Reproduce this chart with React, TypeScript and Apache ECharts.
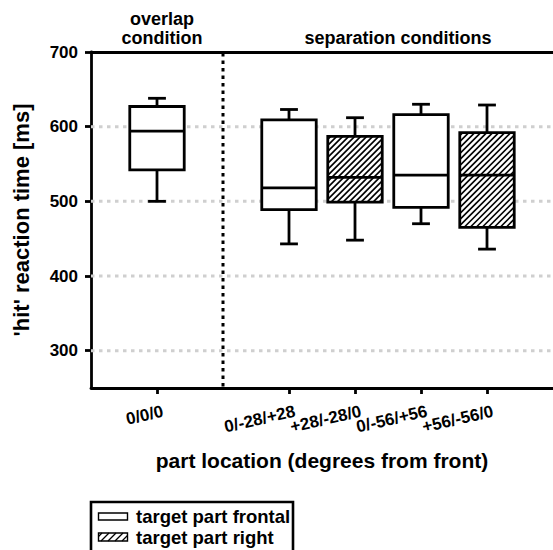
import React, { useEffect, useRef } from "react";
import * as echarts from "echarts";

// ---- data ----
const categories = ["", "0/0/0", "", "0/-28/+28", "+28/-28/0", "0/-56/+56", "+56/-56/0", ""];
const boxLabels = ["0/0/0", "0/-28/+28", "+28/-28/0", "0/-56/+56", "+56/-56/0"];
const whiskerLow = [500, 443, 448, 470, 436];
const quartile1 = [542, 489, 499, 492, 465];
const medians = [594, 518, 532, 535, 535];
const quartile3 = [627, 609, 587, 616, 592];
const whiskerHigh = [638, 623, 612, 630, 629];
const targetPart = ["frontal", "frontal", "right", "frontal", "right"];
const yTicks = [300, 400, 500, 600, 700];
const gridValues = [300, 400, 500, 600];
const yMin = 250;
const yMax = 700;
const separatorIndex = 2;
const legendNames = ["target part frontal", "target part right"];
const groupTitles = ["overlap\ncondition", "separation conditions"];

const FONT = "'Liberation Sans', Arial, Helvetica, sans-serif";

function hatchSegments(x0: number, y0: number, x1: number, y1: number, step: number) {
  const segs: number[][] = [];
  for (let k = x0 + y0 + step / 2; k < x1 + y1; k += step) {
    const xa = Math.max(x0, k - y1);
    const xb = Math.min(x1, k - y0);
    if (xb - xa > 0.5) segs.push([xa, k - xa, xb, k - xb]);
  }
  return segs;
}

function boxData(part: string) {
  const out: number[][] = [];
  boxLabels.forEach((lab, i) => {
    if (targetPart[i] !== part) return;
    out.push([categories.indexOf(lab), whiskerLow[i], quartile1[i], medians[i], quartile3[i], whiskerHigh[i]]);
  });
  return out;
}

function makeBoxRender(hatched: boolean) {
  return (params: any, api: any) => {
    const xi = api.value(0);
    const low = api.coord([xi, api.value(1)]);
    const q1 = api.coord([xi, api.value(2)]);
    const med = api.coord([xi, api.value(3)]);
    const q3 = api.coord([xi, api.value(4)]);
    const high = api.coord([xi, api.value(5)]);
    const band = api.size([1, 0])[0];
    const bw = band * 0.825;
    const cw = band * 0.27;
    const cx = low[0];
    const left = cx - bw / 2;
    const right = cx + bw / 2;
    const lw = 2.8;
    const stroke = { stroke: "#000", lineWidth: lw };
    const children: any[] = [
      { type: "line", shape: { x1: cx, y1: q3[1], x2: cx, y2: high[1] }, style: stroke },
      { type: "line", shape: { x1: cx - cw / 2, y1: high[1], x2: cx + cw / 2, y2: high[1] }, style: stroke },
      { type: "line", shape: { x1: cx, y1: q1[1], x2: cx, y2: low[1] }, style: stroke },
      { type: "line", shape: { x1: cx - cw / 2, y1: low[1], x2: cx + cw / 2, y2: low[1] }, style: stroke },
      { type: "rect", shape: { x: left, y: q3[1], width: bw, height: q1[1] - q3[1] }, style: { fill: "#fff" } },
    ];
    if (hatched) {
      hatchSegments(left, q3[1], right, q1[1], 6).forEach((s) => {
        children.push({
          type: "line",
          shape: { x1: s[0], y1: s[1], x2: s[2], y2: s[3] },
          style: { stroke: "#000", lineWidth: 1.6 },
        });
      });
    }
    children.push({
      type: "rect",
      shape: { x: left, y: q3[1], width: bw, height: q1[1] - q3[1] },
      style: { fill: "none", stroke: "#000", lineWidth: lw },
    });
    children.push({ type: "line", shape: { x1: left, y1: med[1], x2: right, y2: med[1] }, style: stroke });
    return { type: "group", children };
  };
}

export default function App() {
  const ref = useRef<HTMLDivElement>(null);
  useEffect(() => {
    if (!ref.current) return;
    const chart = echarts.init(ref.current, null, { renderer: "svg" });
    const showCat = (_i: number, v: string) => v !== "";

    const legendHatch = hatchSegments(98.5, 533, 127.5, 541, 7).map((s) => ({
      type: "line",
      shape: { x1: s[0], y1: s[1], x2: s[2], y2: s[3] },
      style: { stroke: "#000", lineWidth: 1.3 },
    }));

    chart.setOption({
      animation: false,
      backgroundColor: "#fff",
      grid: { left: 91, top: 52, width: 467, bottom: 162, containLabel: false },
      xAxis: [
        {
          type: "category",
          data: categories,
          boundaryGap: false,
          axisLine: { lineStyle: { color: "#000", width: 2.8 } },
          axisTick: { interval: showCat, length: 6, lineStyle: { color: "#000", width: 2.8 } },
          axisLabel: { show: false },
          splitLine: { show: false },
          name: "part location (degrees from front)",
          nameLocation: "middle",
          nameGap: 62,
          nameTextStyle: { color: "#000", fontSize: 21, fontWeight: "bold", fontFamily: FONT },
        },
        {
          type: "category",
          data: categories,
          boundaryGap: false,
          position: "top",
          axisLine: { lineStyle: { color: "#000", width: 2.8 } },
          axisTick: { show: false },
          axisLabel: { show: false },
          splitLine: { show: false },
        },
      ],
      yAxis: {
        type: "value",
        min: yMin,
        max: yMax,
        axisLine: { show: true, lineStyle: { color: "#000", width: 2.8 } },
        axisTick: { show: true, customValues: yTicks, length: 6, lineStyle: { color: "#000", width: 2.8 } },
        axisLabel: {
          customValues: yTicks,
          margin: 13,
          color: "#000",
          fontSize: 17,
          fontWeight: "bold",
          fontFamily: FONT,
        },
        splitLine: { show: false },
        name: "'hit' reaction time [ms]",
        nameLocation: "middle",
        nameGap: 59,
        nameTextStyle: { color: "#000", fontSize: 22, fontWeight: "bold", fontFamily: FONT },
      },
      series: [
        {
          type: "custom",
          z: 1,
          silent: true,
          encode: { x: 0, y: 1 },
          data: gridValues.map((v) => [0, v]),
          renderItem: (params: any, api: any) => {
            const y = api.coord([0, api.value(1)])[1];
            const cs = params.coordSys;
            return {
              type: "line",
              shape: { x1: cs.x, y1: y, x2: cs.x + cs.width, y2: y },
              style: { stroke: "#cfcfcf", lineWidth: 3, lineDash: [3.5, 4.5] },
            };
          },
        },
        {
          type: "custom",
          z: 2,
          silent: true,
          encode: { x: 0, y: 1 },
          data: [[separatorIndex, yMin]],
          renderItem: (params: any, api: any) => {
            const x = api.coord([api.value(0), api.value(1)])[0];
            const cs = params.coordSys;
            return {
              type: "line",
              shape: { x1: x, y1: cs.y + 1, x2: x, y2: cs.y + cs.height },
              style: { stroke: "#000", lineWidth: 3, lineDash: [3.5, 4] },
            };
          },
        },
        {
          // category tick labels (rotated), anchored on the axis ticks
          type: "custom",
          z: 4,
          silent: true,
          clip: false,
          encode: { x: 0, y: 1 },
          data: boxLabels.map((lab) => [categories.indexOf(lab), yMin]),
          renderItem: (params: any, api: any) => {
            const p = api.coord([api.value(0), api.value(1)]);
            return {
              type: "text",
              x: p[0] + 6,
              y: p[1] + 23,
              rotation: (13 * Math.PI) / 180,
              style: {
                text: boxLabels[params.dataIndex],
                align: "right",
                verticalAlign: "middle",
                fill: "#000",
                font: `bold 17px ${FONT}`,
              },
            };
          },
        },
        {
          name: legendNames[0],
          type: "custom",
          z: 3,
          encode: { x: 0, y: [1, 2, 3, 4, 5] },
          data: boxData("frontal"),
          renderItem: makeBoxRender(false),
        },
        {
          name: legendNames[1],
          type: "custom",
          z: 3,
          encode: { x: 0, y: [1, 2, 3, 4, 5] },
          data: boxData("right"),
          renderItem: makeBoxRender(true),
        },
      ],
      graphic: [
        {
          type: "text",
          x: 162,
          y: 28,
          style: {
            text: groupTitles[0],
            align: "center",
            verticalAlign: "middle",
            lineHeight: 19,
            fill: "#000",
            font: `bold 18px ${FONT}`,
          },
        },
        {
          type: "text",
          x: 398,
          y: 37.5,
          style: {
            text: groupTitles[1],
            align: "center",
            verticalAlign: "middle",
            fill: "#000",
            font: `bold 18px ${FONT}`,
          },
        },
        {
          type: "group",
          children: [
            {
              type: "rect",
              shape: { x: 91, y: 502, width: 202, height: 60 },
              style: { fill: "#fff", stroke: "#000", lineWidth: 2.6 },
            },
            {
              type: "rect",
              shape: { x: 98.5, y: 513, width: 29, height: 7 },
              style: { fill: "#fff", stroke: "#000", lineWidth: 1.4 },
            },
            ...legendHatch,
            {
              type: "rect",
              shape: { x: 98.5, y: 533, width: 29, height: 8 },
              style: { fill: "none", stroke: "#000", lineWidth: 1.4 },
            },
            {
              type: "text",
              x: 136,
              y: 516.5,
              style: { text: legendNames[0], verticalAlign: "middle", fill: "#000", font: `bold 18.5px ${FONT}` },
            },
            {
              type: "text",
              x: 136,
              y: 537.5,
              style: { text: legendNames[1], verticalAlign: "middle", fill: "#000", font: `bold 18.5px ${FONT}` },
            },
          ],
        },
      ],
    });
    return () => chart.dispose();
  }, []);
  return <div ref={ref} style={{ position: "fixed", left: 0, top: 0, width: 553, height: 550 }} />;
}
